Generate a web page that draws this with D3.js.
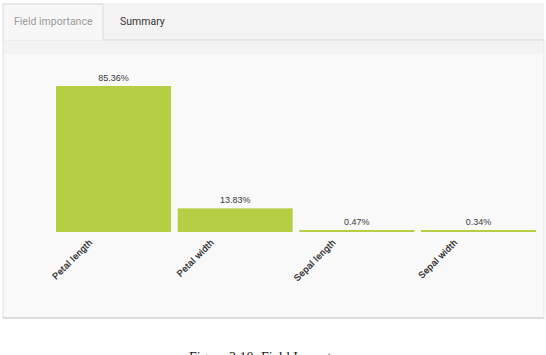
<!DOCTYPE html>
<html>
<head>
<meta charset="utf-8">
<script src="https://cdn.jsdelivr.net/npm/d3@7"></script>
<style>
  body { margin: 0; background: #ffffff; }
</style>
</head>
<body>
<svg id="canvas" width="546" height="355"></svg>
<script>
// field importance data
var fields = ["Petal length", "Petal width", "Sepal length", "Sepal width"];
var importance = [85.36, 13.83, 0.47, 0.34];
var valueLabels = ["85.36%", "13.83%", "0.47%", "0.34%"];
var tabs = ["Field importance", "Summary"];

var svg = d3.select("#canvas");
var width = +svg.attr("width");
var height = +svg.attr("height");

// tab strip background
svg.append("rect")
  .attr("x", 3).attr("y", 3)
  .attr("width", 541).attr("height", 37)
  .style("fill", "#f3f3f3");

// content panel
svg.append("rect")
  .attr("x", 3).attr("y", 40)
  .attr("width", 541).attr("height", 278)
  .style("fill", "#f9f9f9")
  .style("stroke", "#e2e2e2")
  .style("stroke-width", 1);
svg.append("rect")
  .attr("x", 4).attr("y", 41)
  .attr("width", 539).attr("height", 13)
  .style("fill", "#f3f3f3");
svg.append("line")
  .attr("x1", 3).attr("x2", 544)
  .attr("y1", 318).attr("y2", 318)
  .style("stroke", "#dcdcdc")
  .style("stroke-width", 2);

// active tab
svg.append("path")
  .attr("d", "M3,40 L3,4 L103,4 L103,40")
  .style("fill", "#f7f7f7")
  .style("stroke", "#dadada");
svg.append("line")
  .attr("x1", 103).attr("x2", 544)
  .attr("y1", 40).attr("y2", 40)
  .style("stroke", "#e2e2e2");

svg.append("text")
  .attr("x", 14).attr("y", 25)
  .style("font-family", "Roboto, sans-serif")
  .style("font-size", "10.5px")
  .style("fill", "#9a9a9a")
  .text(tabs[0]);
svg.append("text")
  .attr("x", 120).attr("y", 25)
  .style("font-family", "Roboto, sans-serif")
  .style("font-size", "10.5px")
  .style("fill", "#333")
  .text(tabs[1]);

// scales
var xScale = d3.scaleBand()
  .domain(fields)
  .range([56, 536])
  .paddingInner(0.055)
  .paddingOuter(0);

var baseline = 232;
var yScale = d3.scaleLinear()
  .domain([0, 85.36])
  .range([baseline, 86]);

var minH = 2;

svg.selectAll("rect.bar")
  .data(importance)
  .enter().append("rect")
  .attr("class", "bar")
  .attr("x", function(d, i) { return xScale(fields[i]); })
  .attr("width", xScale.bandwidth())
  .attr("y", function(d) { return Math.min(yScale(d), baseline - minH); })
  .attr("height", function(d) { return Math.max(baseline - yScale(d), minH); })
  .style("fill", "#b5cf45");

svg.selectAll("text.value")
  .data(importance)
  .enter().append("text")
  .attr("class", "value")
  .attr("x", function(d, i) { return xScale(fields[i]) + xScale.bandwidth() / 2; })
  .attr("y", function(d) { return Math.min(yScale(d), baseline - minH) - 5; })
  .attr("text-anchor", "middle")
  .style("font-family", "Arial, 'Liberation Sans', sans-serif")
  .style("font-size", "9px")
  .style("fill", "#3a3a3a")
  .text(function(d, i) { return valueLabels[i]; });

// rotated category labels
svg.selectAll("text.cat")
  .data(fields)
  .enter().append("text")
  .attr("class", "cat")
  .attr("transform", function(d) {
    return "translate(" + (xScale(d) + 37) + "," + (baseline + 11) + ") rotate(-45)";
  })
  .attr("text-anchor", "end")
  .style("font-family", "Arial, 'Liberation Sans', sans-serif")
  .style("font-size", "9px")
  .style("letter-spacing", "0.4px")
  .style("stroke", "#222")
  .style("stroke-width", 0.25)
  .style("fill", "#222")
  .text(function(d) { return d; });

// caption
svg.append("text")
  .attr("x", width / 2).attr("y", 362)
  .attr("text-anchor", "middle")
  .style("font-family", "'Liberation Serif', serif")
  .style("font-size", "14px")
  .style("fill", "#222")
  .text("Figure 3.10: Field Importance");
</script>
</body>
</html>
